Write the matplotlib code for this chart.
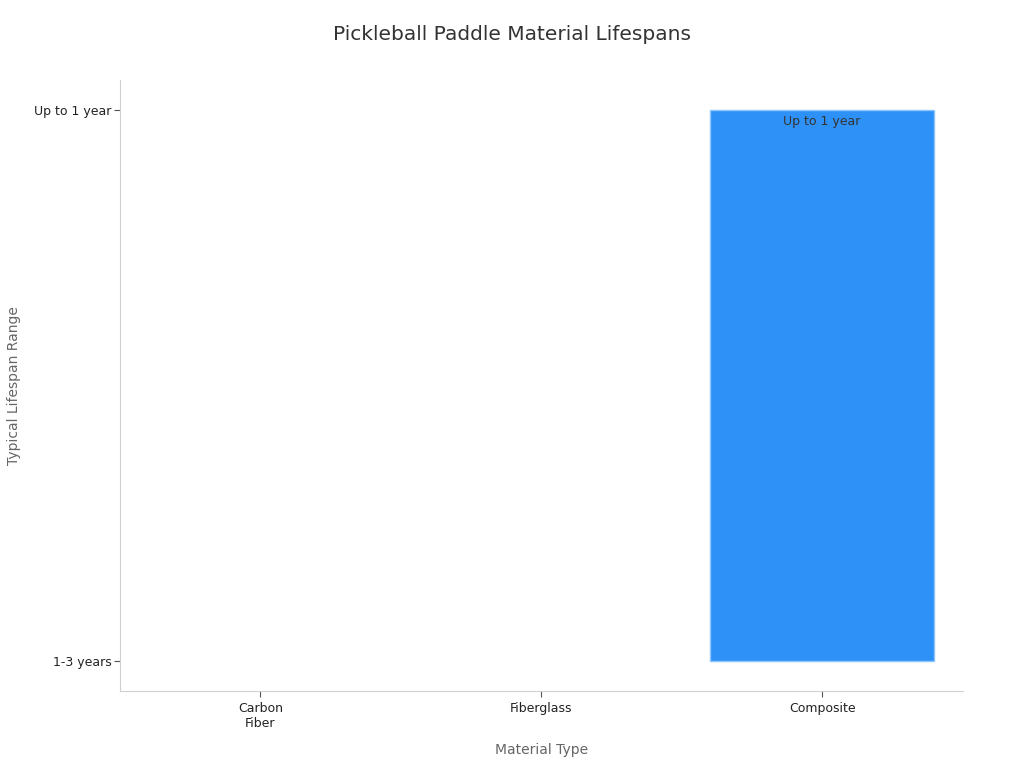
import matplotlib
matplotlib.use('Agg')
import matplotlib.pyplot as plt

# Chart data
materials = ['Carbon\nFiber', 'Fiberglass', 'Composite']
lifespan_levels = ['1-3 years', 'Up to 1 year']
lifespans = ['1-3 years', '1-3 years', 'Up to 1 year']

values = [lifespan_levels.index(v) for v in lifespans]
positions = list(range(len(materials)))

fig = plt.figure(figsize=(10.24, 7.68), dpi=100)
ax = fig.add_axes([0.117, 0.100, 0.823, 0.796])

bars = ax.bar(positions, values, width=0.8, color='#2e91f8',
              edgecolor='#8cc4fb', linewidth=1)
# zero-height bars should not show an outline
for b, v in zip(bars, values):
    if v == 0:
        b.set_linewidth(0)

# Label each non-empty bar just inside its top edge
for x, v, label in zip(positions, values, lifespans):
    if v > 0:
        ax.annotate(label, (x, v), xytext=(0, -3.5), textcoords='offset points',
                    ha='center', va='top', fontsize=9, color='#333333')

ax.set_xlim(-0.5, 2.5)
ax.set_ylim(-0.055, 1.055)
ax.set_xticks(positions)
ax.set_xticklabels(materials)
ax.set_yticks(range(len(lifespan_levels)))
ax.set_yticklabels(lifespan_levels)
ax.tick_params(labelsize=9, colors='#222222', length=4)
ax.tick_params(axis='y', pad=2)
ax.tick_params(axis='x', pad=4)
ax.tick_params(axis='both', color='#555555')

for side in ['top', 'right']:
    ax.spines[side].set_visible(False)
for side in ['left', 'bottom']:
    ax.spines[side].set_color('#d0d0d0')

ax.set_xlabel('Material Type', fontsize=10, color='#666666', labelpad=9)
ax.set_ylabel('Typical Lifespan Range', fontsize=10, color='#666666')
ax.yaxis.set_label_coords(-0.117, 0.5)
fig.suptitle('Pickleball Paddle Material Lifespans', fontsize=14.5, color='#333333', y=0.968)

fig.savefig('out.png', dpi=100)
